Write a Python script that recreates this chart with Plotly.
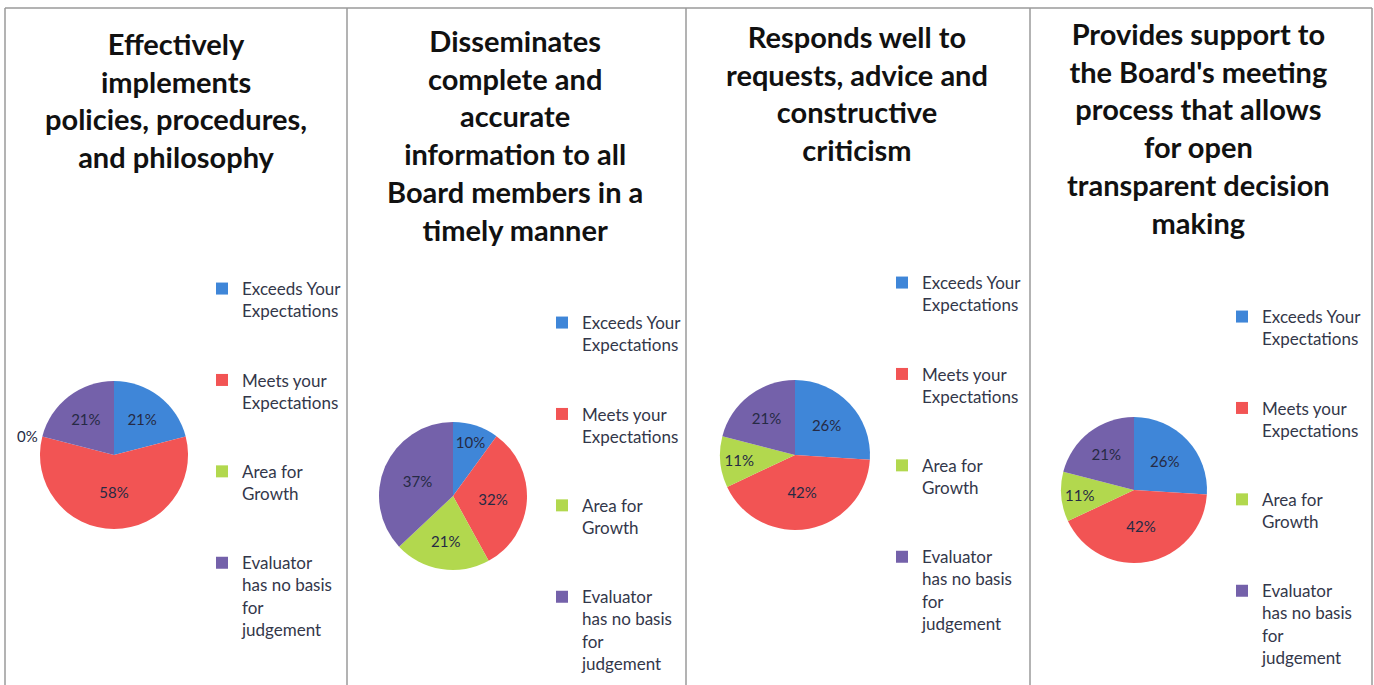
import plotly.graph_objects as go

categories = ["Exceeds Your<br>Expectations", "Meets your<br>Expectations",
              "Area for<br>Growth", "Evaluator<br>has no basis<br>for<br>judgement"]
titles = [
    "Effectively<br>implements<br>policies, procedures,<br>and philosophy",
    "Disseminates<br>complete and<br>accurate<br>information to all<br>Board members in a<br>timely manner",
    "Responds well to<br>requests, advice and<br>constructive<br>criticism",
    "Provides support to<br>the Board's meeting<br>process that allows<br>for open<br>transparent decision<br>making",
]
values_policies = [21, 58, 0, 21]
values_information = [10, 32, 21, 37]
values_responds = [26, 42, 11, 21]
values_support = [26, 42, 11, 21]
series = [values_policies, values_information, values_responds, values_support]

colors = ["#3f86d8", "#f25454", "#b2d84e", "#7461aa"]
W, H = 1374, 685

# pie centres / radius in pixels (layout only)
pies = [(114, 455, 74), (453, 496, 74), (795, 455, 75), (1134, 490, 73)]
title_pos = [(176, 24), (515, 21), (857, 17), (1198, 14)]
legend_pos = [(202, 271), (542, 305), (882, 265), (1222, 299)]
panel_x = [5, 347, 686, 1030, 1372]

fig = go.Figure()
for i, vals in enumerate(series):
    cx, cy, r = pies[i]
    # invisible suffix keeps each chart's legend entries distinct
    suffix = "\u200b" * i
    labels = [(c + "<br> <br> " if j < 3 else c) + suffix for j, c in enumerate(categories)]
    textpos = ["outside" if v == 0 else "inside" for v in vals]
    fig.add_trace(go.Pie(
        labels=labels, values=vals, sort=False, direction="clockwise", rotation=0,
        marker=dict(colors=colors, line=dict(color="white", width=0)),
        textinfo="percent", texttemplate="%{percent:.0%}", textposition=textpos,
        insidetextorientation="horizontal",
        textfont=dict(family="Lato", size=15, color="#262a44"),
        outsidetextfont=dict(family="Lato", size=15, color="#262a44"),
        domain=dict(x=[(cx - r) / W, (cx + r) / W], y=[(H - cy - r) / H, (H - cy + r) / H]),
        legend="legend" if i == 0 else f"legend{i+1}",
        showlegend=True,
    ))

layout_legends = {}
for i, (lx, ly) in enumerate(legend_pos):
    key = "legend" if i == 0 else f"legend{i+1}"
    layout_legends[key] = dict(
        x=lx / W, y=1 - ly / H, xanchor="left", yanchor="top",
        font=dict(family="Lato", size=17, color="#33374a"),
        valign="top", bgcolor="rgba(0,0,0,0)", itemwidth=30,
    )

annotations = []
for i, t in enumerate(titles):
    tx, ty = title_pos[i]
    annotations.append(dict(
        text=t, x=tx / W, y=1 - ty / H, xref="paper", yref="paper",
        xanchor="center", yanchor="top", showarrow=False, align="center",
        font=dict(family="Lato", size=29, color="#111111", weight="bold"),
    ))

shapes = []
for x in panel_x:
    shapes.append(dict(type="line", xref="paper", yref="paper",
                       x0=x / W, x1=x / W, y0=0, y1=1 - 8 / H,
                       line=dict(color="#9a9a9a", width=1.5)))
shapes.append(dict(type="line", xref="paper", yref="paper",
                   x0=5 / W, x1=1372 / W, y0=1 - 8 / H, y1=1 - 8 / H,
                   line=dict(color="#9a9a9a", width=1.5)))

fig.update_layout(
    width=W, height=H, margin=dict(l=0, r=0, t=0, b=0),
    paper_bgcolor="white", plot_bgcolor="white",
    annotations=annotations, shapes=shapes,
    **layout_legends,
)
fig.write_html("out.html")
